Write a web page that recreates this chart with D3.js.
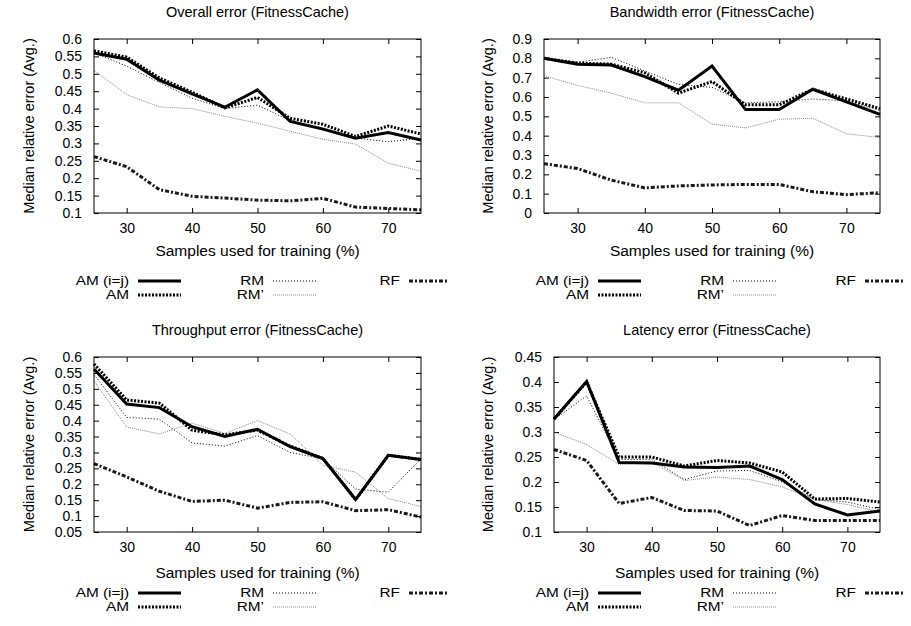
<!DOCTYPE html>
<html><head><meta charset="utf-8">
<script src="https://cdn.jsdelivr.net/npm/d3@7"></script>
<style>body{margin:0;background:#fff}text{font-family:"Liberation Sans",Arial,sans-serif;fill:#000}</style>
</head><body><svg id="c" width="911" height="626"></svg>
<script>
const xValues = [25,30,35,40,45,50,55,60,65,70,75];
const xTicks = [30,40,50,60,70];
const seriesNames = ["AM (i=j)","AM","RM","RM\u2019","RF"];
const panelTitles = ["Overall error (FitnessCache)","Bandwidth error (FitnessCache)","Throughput error (FitnessCache)","Latency error (FitnessCache)"];
const xLabel = "Samples used for training (%)";
const yLabel = "Median relative error (Avg.)";

const overallAMij = [0.56,0.542,0.482,0.442,0.404,0.454,0.363,0.341,0.315,0.331,0.31];
const overallAM   = [0.566,0.548,0.488,0.447,0.402,0.432,0.372,0.355,0.32,0.35,0.327];
const overallRM   = [0.56,0.522,0.475,0.43,0.40,0.41,0.365,0.345,0.315,0.305,0.315];
const overallRMp  = [0.51,0.44,0.405,0.40,0.378,0.358,0.335,0.312,0.298,0.243,0.22];
const overallRF   = [0.262,0.233,0.167,0.148,0.143,0.137,0.135,0.142,0.117,0.113,0.109];

const bandwidthAMij = [0.80,0.77,0.765,0.705,0.635,0.76,0.535,0.535,0.64,0.575,0.51];
const bandwidthAM   = [0.80,0.775,0.77,0.725,0.62,0.68,0.56,0.56,0.64,0.59,0.54];
const bandwidthRM   = [0.80,0.78,0.805,0.735,0.665,0.65,0.57,0.575,0.59,0.58,0.53];
const bandwidthRMp  = [0.71,0.66,0.62,0.57,0.57,0.46,0.44,0.485,0.49,0.41,0.39];
const bandwidthRF   = [0.255,0.23,0.17,0.13,0.14,0.145,0.148,0.148,0.11,0.095,0.105];

const throughputAMij = [0.562,0.452,0.441,0.381,0.35,0.373,0.318,0.281,0.152,0.291,0.278];
const throughputAM   = [0.578,0.465,0.455,0.37,0.355,0.37,0.32,0.281,0.152,0.291,0.278];
const throughputRM   = [0.545,0.41,0.405,0.33,0.32,0.353,0.30,0.28,0.185,0.175,0.28];
const throughputRMp  = [0.525,0.38,0.358,0.392,0.36,0.40,0.358,0.26,0.238,0.155,0.13];
const throughputRF   = [0.265,0.223,0.178,0.146,0.15,0.125,0.143,0.145,0.117,0.12,0.097];

const latencyAMij = [0.326,0.401,0.239,0.238,0.23,0.229,0.232,0.205,0.156,0.134,0.142];
const latencyAM   = [0.326,0.40,0.25,0.25,0.232,0.243,0.238,0.22,0.166,0.167,0.16];
const latencyRM   = [0.325,0.372,0.245,0.245,0.205,0.222,0.223,0.20,0.165,0.16,0.145];
const latencyRMp  = [0.30,0.275,0.235,0.24,0.203,0.21,0.205,0.19,0.165,0.155,0.14];
const latencyRF   = [0.265,0.243,0.157,0.169,0.143,0.142,0.113,0.133,0.123,0.123,0.123];

const yTicks1 = [0.1,0.15,0.2,0.25,0.3,0.35,0.4,0.45,0.5,0.55,0.6];
const yTicks2 = [0,0.1,0.2,0.3,0.4,0.5,0.6,0.7,0.8,0.9];
const yTicks3 = [0.05,0.1,0.15,0.2,0.25,0.3,0.35,0.4,0.45,0.5,0.55,0.6];
const yTicks4 = [0.1,0.15,0.2,0.25,0.3,0.35,0.4,0.45];

const styles = [
  {color:"#000", width:3, dash:null},
  {color:"#000", width:3, dash:"2,1.5"},
  {color:"#000", width:1, dash:"1,2"},
  {color:"#888", width:1, dash:"1,1"},
  {color:"#1a1a1a", width:3, dash:"4,2,2,2"}
];

const panels = [
  {title:panelTitles[0], series:[overallAMij,overallAM,overallRM,overallRMp,overallRF], ticks:yTicks1, box:{l:94,r:421,t:39,b:213}, ylx:29, xlab:251, leg:[281,295], legX:[129,264,400]},
  {title:panelTitles[1], series:[bandwidthAMij,bandwidthAM,bandwidthRM,bandwidthRMp,bandwidthRF], ticks:yTicks2, box:{l:544,r:880,t:39,b:213}, ylx:488, xlab:251, leg:[281,295], legX:[589,724,856]},
  {title:panelTitles[2], series:[throughputAMij,throughputAM,throughputRM,throughputRMp,throughputRF], ticks:yTicks3, box:{l:94,r:421,t:357,b:532}, ylx:29, xlab:573, leg:[593,607], legX:[129,264,400]},
  {title:panelTitles[3], series:[latencyAMij,latencyAM,latencyRM,latencyRMp,latencyRF], ticks:yTicks4, box:{l:554,r:880,t:357,b:532}, ylx:488, xlab:573, leg:[593,607], legX:[589,724,856]}
];

const svg = d3.select("#c");
const fmt = v => String(+v.toFixed(2));

panels.forEach(p => {
  const b = p.box;
  const g = svg.append("g");
  const x = d3.scaleLinear().domain([25,75]).range([b.l,b.r]);
  const y = d3.scaleLinear().domain(d3.extent(p.ticks)).range([b.b,b.t]);

  const axB = d3.axisBottom(x).tickValues(xTicks).tickSize(-5).tickPadding(10).tickFormat(d3.format("d"));
  const axT = d3.axisTop(x).tickValues(xTicks).tickSize(-5).tickFormat("");
  const axL = d3.axisLeft(y).tickValues(p.ticks).tickSize(-5).tickPadding(12).tickFormat(fmt);
  const axR = d3.axisRight(y).tickValues(p.ticks).tickSize(-5).tickFormat("");
  const ab = g.append("g").attr("transform",`translate(0,${b.b})`).call(axB);
  const at = g.append("g").attr("transform",`translate(0,${b.t})`).call(axT);
  const al = g.append("g").attr("transform",`translate(${b.l},0)`).call(axL);
  const ar = g.append("g").attr("transform",`translate(${b.r},0)`).call(axR);
  [ab,at,al,ar].forEach(a => { a.select(".domain").remove(); a.selectAll("line").attr("stroke","#000"); a.selectAll("text").style("font-size","14px").attr("font-family",null); });
  ab.selectAll("text").attr("dy","0.71em");

  const line = d3.line().x((d,i)=>x(xValues[i])).y(d=>y(d));
  const order = [3,2,4,1,0];
  order.forEach(k => {
    const s = styles[k];
    g.append("path").datum(p.series[k]).attr("d",line).attr("fill","none")
      .attr("stroke",s.color).attr("stroke-width",s.width)
      .attr("stroke-dasharray",s.dash).attr("stroke-linejoin","miter");
  });

  g.append("rect").attr("x",b.l).attr("y",b.t).attr("width",b.r-b.l).attr("height",b.b-b.t)
    .attr("fill","none").attr("stroke","#000").attr("stroke-width",1);

  g.append("text").attr("x",(b.l+b.r)/2).attr("y",b.t-22).attr("text-anchor","middle").style("font-size","14.5px").text(p.title);
  g.append("text").attr("x",(b.l+b.r)/2).attr("y",p.xlab).attr("dy","0.35em").attr("text-anchor","middle").style("font-size","15.5px").text(xLabel);
  g.append("text").attr("transform",`translate(${p.ylx},${(b.t+b.b)/2}) rotate(-90)`).attr("dy","0.35em").attr("text-anchor","middle").style("font-size","14.5px").text(yLabel);

  const legPos = [[0,0],[0,1],[1,0],[1,1],[2,0]];
  legPos.forEach((pos,k) => {
    const tx = p.legX[pos[0]], ty = p.leg[pos[1]];
    g.append("text").attr("transform",`translate(${tx},${ty}) scale(1.28,1)`).attr("dy","0.36em").attr("text-anchor","end").style("font-size","12px").text(seriesNames[k]);
    const len = pos[0]===2 ? 39 : 43;
    const s = styles[k];
    g.append("line").attr("x1",tx+9).attr("x2",tx+9+len).attr("y1",ty).attr("y2",ty)
      .attr("stroke",s.color).attr("stroke-width",s.width).attr("stroke-dasharray",s.dash);
  });
});
</script></body></html>
